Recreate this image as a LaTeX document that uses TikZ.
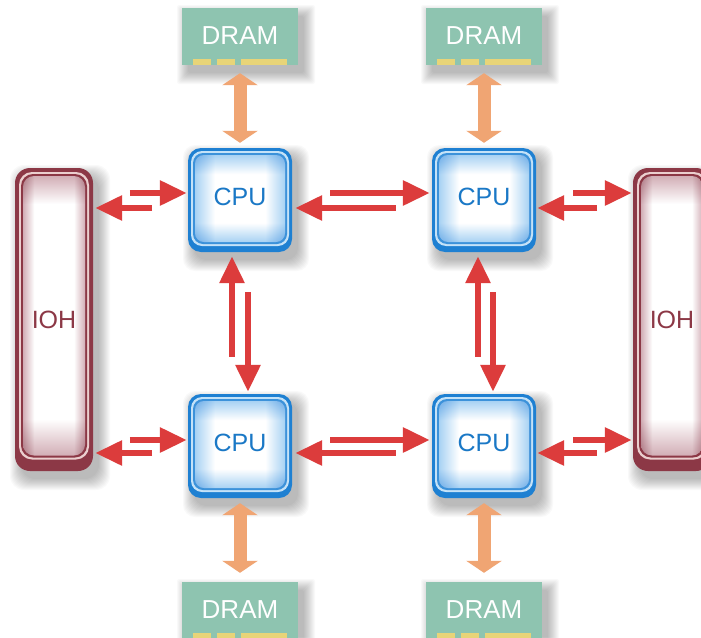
\documentclass[tikz,border=0pt]{standalone}
\usepackage{fontspec}
\setmainfont{Liberation Sans}
\usetikzlibrary{arrows.meta,calc}
\definecolor{cpuouter}{HTML}{1E80D2}
\definecolor{cpuband}{HTML}{C4E2F8}
\definecolor{cpuline}{HTML}{3C92DA}
\definecolor{cpuedge}{HTML}{A8D2F3}
\definecolor{cputext}{HTML}{1A78C6}
\definecolor{iohdark}{HTML}{8C3846}
\definecolor{iohband}{HTML}{EBCFCF}
\definecolor{iohedge}{HTML}{D2AEB6}
\definecolor{dramgreen}{HTML}{8EC4B0}
\definecolor{dramgold}{HTML}{E8D478}
\definecolor{arrowred}{HTML}{DC3C3C}
\definecolor{arroworange}{HTML}{F0A573}
\pgfdeclareverticalshading{cpuv}{100bp}{color(0bp)=(cpuedge); color(25bp)=(cpuedge); color(36bp)=(white); color(64bp)=(white); color(75bp)=(cpuedge); color(100bp)=(cpuedge)}
\pgfdeclarehorizontalshading{cpuh}{100bp}{color(0bp)=(cpuedge); color(25bp)=(cpuedge); color(36bp)=(white); color(64bp)=(white); color(75bp)=(cpuedge); color(100bp)=(cpuedge)}
\pgfdeclareverticalshading{iohv}{100bp}{color(0bp)=(iohedge); color(25bp)=(iohedge); color(31.5bp)=(white); color(70bp)=(white); color(75bp)=(iohedge); color(100bp)=(iohedge)}
\pgfdeclarehorizontalshading{iohh}{100bp}{color(0bp)=(iohedge); color(25bp)=(iohedge); color(34bp)=(white); color(66bp)=(white); color(75bp)=(iohedge); color(100bp)=(iohedge)}
\tikzset{
  redarrow/.style={draw=arrowred, line width=6pt, -{Triangle[length=27pt,width=24pt]}},
  orangearrow/.style={draw=arroworange, line width=13pt,
     {Triangle[length=12pt,width=35pt]}-{Triangle[length=12pt,width=35pt]}},
  cpunode/.style={minimum width=104pt, minimum height=104pt, inner sep=0pt,
     text=cputext, font=\fontsize{25}{28}\selectfont, text height=18pt, text depth=8pt},
  iohnode/.style={minimum width=78pt, minimum height=303pt, inner sep=0pt,
     text=iohdark, font=\fontsize{25}{28}\selectfont, text height=18pt, text depth=0pt},
  dramnode/.style={minimum width=116pt, minimum height=57pt, inner sep=0pt,
     text=white, font=\fontsize{26}{30}\selectfont, text height=19pt, text depth=3pt},
}
% soft shadow: x1 y1 x2 y2 radius
\newcommand\softshadow[5]{%
  \foreach \i in {0,...,11}{%
    \fill[black,opacity=0.024,rounded corners=#5]
      ({#1-\i+6},{#2-\i+8}) rectangle ({#3+\i+6},{#4+\i+8});}}
% CPU: name x y
\newcommand\cpubox[3]{%
  \softshadow{#2-52}{#3-52}{#2+52}{#3+52}{12pt}
  \fill[cpuouter, rounded corners=13pt] ({#2-52},{#3-52}) rectangle ({#2+52},{#3+52});
  \fill[cpuband, rounded corners=11pt] ({#2-49},{#3-49}) rectangle ({#2+49},{#3+46});
  \fill[cpuline, rounded corners=10pt] ({#2-47},{#3-47}) rectangle ({#2+47},{#3+44});
  \shade[shading=cpuv, rounded corners=9pt] ({#2-45},{#3-45}) rectangle ({#2+45},{#3+42});
  \begin{scope}[blend mode=multiply]
  \shade[shading=cpuh, rounded corners=9pt] ({#2-45},{#3-45}) rectangle ({#2+45},{#3+42});
  \end{scope}
  \node[cpunode] (#1) at (#2,#3) {CPU};}
% IOH: name x y
\newcommand\iohbox[3]{%
  \softshadow{#2-39}{#3-151.5}{#2+39}{#3+151.5}{14pt}
  \fill[iohdark, rounded corners=15pt] ({#2-39},{#3-151.5}) rectangle ({#2+39},{#3+151.5});
  \fill[iohband, rounded corners=13pt] ({#2-35},{#3-147.5}) rectangle ({#2+35},{#3+140});
  \fill[iohdark, rounded corners=12pt] ({#2-33},{#3-145.5}) rectangle ({#2+33},{#3+138});
  \shade[shading=iohv, rounded corners=11pt] ({#2-31},{#3-143.5}) rectangle ({#2+31},{#3+136});
  \begin{scope}[blend mode=multiply]
  \shade[shading=iohh, rounded corners=11pt] ({#2-31},{#3-143.5}) rectangle ({#2+31},{#3+136});
  \end{scope}
  \node[iohnode] (#1) at (#2,#3) {IOH};}
% DRAM: name x ytop
\newcommand\drambox[3]{%
  \softshadow{#2-58}{#3}{#2+58}{#3+57}{2pt}
  \fill[dramgreen] ({#2-58},{#3}) rectangle ({#2+58},{#3+57});
  \fill[dramgold] ({#2-47},{#3+51}) rectangle ({#2-29},{#3+57});
  \fill[dramgold] ({#2-23},{#3+51}) rectangle ({#2-5},{#3+57});
  \fill[dramgold] ({#2+1},{#3+51}) rectangle ({#2+47},{#3+57});
  \node[dramnode] (#1) at (#2,{#3+28.5}) {DRAM};}
\begin{document}
\begin{tikzpicture}[x=1pt,y=-1pt]
\useasboundingbox (0,0) rectangle (701,637);
\clip (0,0) rectangle (701,637);
\fill[white] (0,0) rectangle (701,637);
% boxes
\drambox{dramA}{240}{8}
\drambox{dramB}{484}{8}
\drambox{dramC}{240}{582}
\drambox{dramD}{484}{582}
\iohbox{iohL}{54}{319.5}
\iohbox{iohR}{672}{319.5}
\cpubox{cpuA}{240}{200}
\cpubox{cpuB}{484}{200}
\cpubox{cpuC}{240}{446}
\cpubox{cpuD}{484}{446}
% memory links
\draw[orangearrow] ($(dramA.south)+(0,8)$) -- ($(cpuA.north)+(0,-5)$);
\draw[orangearrow] ($(dramB.south)+(0,8)$) -- ($(cpuB.north)+(0,-5)$);
\draw[orangearrow] ($(cpuC.south)+(0,5)$) -- ($(dramC.north)+(0,-9)$);
\draw[orangearrow] ($(cpuD.south)+(0,5)$) -- ($(dramD.north)+(0,-9)$);
% top row links
\draw[redarrow] ($(cpuA.west)+(-58,-7)$) -- ($(cpuA.west)+(-1,-7)$);
\draw[redarrow] ($(iohL.east |- cpuA.west)+(59,8)$) -- ($(iohL.east |- cpuA.west)+(2,8)$);
\draw[redarrow] ($(cpuA.east)+(38,-7)$) -- ($(cpuB.west)+(-2,-7)$);
\draw[redarrow] ($(cpuB.west)+(-36,8)$) -- ($(cpuA.east)+(3,8)$);
\draw[redarrow] ($(cpuB.east)+(37,-7)$) -- ($(iohR.west |- cpuB.east)+(-1,-7)$);
\draw[redarrow] ($(cpuB.east)+(61,8)$) -- ($(cpuB.east)+(1,8)$);
% bottom row links
\draw[redarrow] ($(cpuC.west)+(-58,-6)$) -- ($(cpuC.west)+(-1,-6)$);
\draw[redarrow] ($(iohL.east |- cpuC.west)+(59,7)$) -- ($(iohL.east |- cpuC.west)+(2,7)$);
\draw[redarrow] ($(cpuC.east)+(38,-6)$) -- ($(cpuD.west)+(-2,-6)$);
\draw[redarrow] ($(cpuD.west)+(-36,7)$) -- ($(cpuC.east)+(3,7)$);
\draw[redarrow] ($(cpuD.east)+(37,-6)$) -- ($(iohR.west |- cpuD.east)+(-1,-6)$);
\draw[redarrow] ($(cpuD.east)+(61,7)$) -- ($(cpuD.east)+(1,7)$);
% vertical links
\draw[redarrow] ($(cpuC.north)+(-8,-37)$) -- ($(cpuA.south)+(-8,4)$);
\draw[redarrow] ($(cpuA.south)+(8,40)$) -- ($(cpuC.north)+(8,-2)$);
\draw[redarrow] ($(cpuD.north)+(-6,-37)$) -- ($(cpuB.south)+(-6,4)$);
\draw[redarrow] ($(cpuB.south)+(9,40)$) -- ($(cpuD.north)+(9,-2)$);
\end{tikzpicture}
\end{document}
